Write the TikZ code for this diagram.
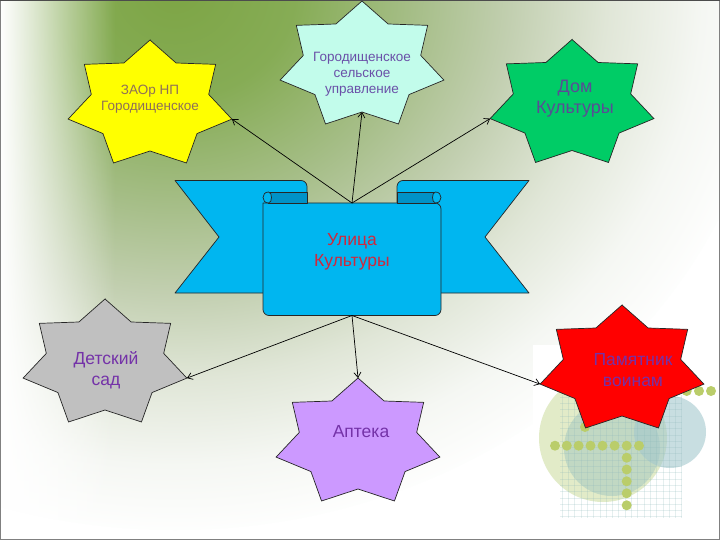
\documentclass[tikz,border=0pt]{standalone}
\usepackage{fontspec}
\setmainfont{Liberation Sans}
\usetikzlibrary{arrows.meta,fadings}

\definecolor{bg0}{HTML}{7DA545}
\definecolor{bg1}{HTML}{86AC55}
\definecolor{bg2}{HTML}{A6BE88}
\definecolor{bg3}{HTML}{C2CFB0}
\definecolor{bg4}{HTML}{E0E6D7}
\definecolor{bg5}{HTML}{F5F7F3}
\definecolor{ribL}{HTML}{00B6F0}
\definecolor{ribD}{HTML}{0092C8}
\definecolor{stYel}{HTML}{FFFF00}
\definecolor{stCyan}{HTML}{C2FCEB}
\definecolor{stGreen}{HTML}{00CC66}
\definecolor{stGrey}{HTML}{C0C0C0}
\definecolor{stViolet}{HTML}{CC99FF}
\definecolor{stRed}{HTML}{FF0000}
\definecolor{txBrown}{HTML}{8F7058}
\definecolor{txBlue}{HTML}{6A50A8}
\definecolor{txSlate}{HTML}{5A4C96}
\definecolor{txPurple}{HTML}{7432A8}
\definecolor{txRed}{HTML}{D0283C}
\definecolor{dc1}{HTML}{D6E3B2}
\definecolor{dc2}{HTML}{A6CABF}
\definecolor{dc3}{HTML}{A4C8CE}
\definecolor{dcgrid}{HTML}{8DB8BA}
\definecolor{dcdot}{HTML}{BACD6A}

\pgfdeclareradialshading{bgshade}{\pgfpoint{0bp}{0bp}}{color(0bp)=(bg0); color(5bp)=(bg1); color(10bp)=(bg2); color(14bp)=(bg3); color(18bp)=(bg4); color(22bp)=(bg5); color(25.5bp)=(white); color(50bp)=(white)}
\tikzfading[name=fadeleft, left color=transparent!0, middle color=transparent!35, right color=transparent!100]

\newcommand\sevenstar[4]{%
  \draw[starline, fill=#3] ({#1},{#2-64.7})
    \foreach \k in {0,...,6}{
      -- ({#1+60.2*cos(115.714+51.4286*\k)},{#2-46.3*sin(115.714+51.4286*\k)})
      -- ({#1+84*cos(141.4286+51.4286*\k)},{#2-64.7*sin(141.4286+51.4286*\k)}) } -- cycle;
  \coordinate (#4-n) at ({#1},{#2-64.7});
  \coordinate (#4-s) at ({#1},{#2+46.3});
  \coordinate (#4-e) at ({#1+81.9},{#2+14.4});
  \coordinate (#4-w) at ({#1-81.9},{#2+14.4});
}

\tikzset{
  starline/.style={draw=black!85, line width=0.7pt, line join=miter},
  ribline/.style={draw=black!85, line width=0.7pt, line join=round},
  conn/.style={draw=black, line width=0.7pt, -{Straight Barb[length=5pt,width=7pt]}},
  smalltxt/.style={align=center, font=\fontsize{13.5}{15.5}\selectfont, inner sep=0pt},
  bigtxt/.style={align=center, font=\fontsize{17.5}{20.5}\selectfont, inner sep=0pt},
}

\begin{document}
\begin{tikzpicture}[x=1pt,y=-1pt]
\useasboundingbox (0,0) rectangle (720,540);

% background
\begin{scope}
  \clip (0,0) rectangle (720,540);
  \fill[white] (0,0) rectangle (720,540);
  \shade[shading=bgshade] (175,-10) ellipse [x radius=600pt, y radius=540pt];
  \fill[white, path fading=fadeleft] (0,0) rectangle (115,540);
\end{scope}

% decorative picture bottom right
\begin{scope}
  \fill[white] (533,345) rectangle (719,523);
  \fill[dc1, opacity=0.7] (603,438) circle (64pt);
  \fill[dc2, opacity=0.55] (612,448) circle (48pt);
  \fill[dc3, opacity=0.6] (670,432) circle (36pt);
  \begin{scope}
    \clip (560,395) rectangle (682,518);
    \foreach \gx in {0,...,19} {
      \draw[dcgrid, opacity=0.22, line width=0.5pt] ({562+6.3*\gx},395) -- ({562+6.3*\gx},518);
    }
    \foreach \gy in {0,...,19} {
      \draw[dcgrid, opacity=0.22, line width=0.5pt] (560,{397+6.3*\gy}) -- (682,{397+6.3*\gy});
    }
  \end{scope}
  \foreach \dx in {555,566.8,578.6,590.5,602.5,614.6,626.7,639} {
    \fill[dcdot] (\dx,445.7) circle (5pt);
  }
  \foreach \dy in {457.7,469.5,481.3,493.3,505.3} {
    \fill[dcdot] (626.7,\dy) circle (5pt);
  }
  \foreach \dx in {686.7,699,711} {
    \fill[dcdot] (\dx,391) circle (5pt);
  }
  \fill[dcdot] (585,427) circle (5pt);
\end{scope}

% ribbon
\draw[ribline, fill=ribL] (175,180.5) [rounded corners=6pt] -- (307,180.5) -- (307,240) [sharp corners] -- (307,293) -- (175,293) -- (219,237) -- cycle;
\draw[ribline, fill=ribL] (529,180.5) [rounded corners=6pt] -- (397,180.5) -- (397,240) [sharp corners] -- (397,293) -- (529,293) -- (485,237) -- cycle;
\draw[ribline, fill=ribL, rounded corners=6pt] (263,203) -- (263,315.5) -- (441,315.5) -- (441,203) [sharp corners] -- cycle;
\draw[ribline, fill=ribD] (268.5,192) rectangle (307,203);
\draw[ribline, fill=ribD] (397,192) rectangle (435.5,203);
\draw[ribline, fill=ribL] (268.5,192) .. controls (261.2,192) and (261.2,203) .. (268.5,203) .. controls (272.5,203) and (272.5,192) .. (268.5,192) -- cycle;
\draw[ribline, fill=ribL] (435.5,192) .. controls (442.8,192) and (442.8,203) .. (435.5,203) .. controls (431.5,203) and (431.5,192) .. (435.5,192) -- cycle;
\coordinate (rtop) at (352,203);
\coordinate (rbot) at (352,315.5);
\node[bigtxt, text=txRed] (ribtext) at (352,252) {Улица\\Культуры};

% stars
\sevenstar{150}{104.7}{stYel}{zaor}
\sevenstar{362}{65.7}{stCyan}{gsu}
\sevenstar{572}{104.2}{stGreen}{dk}
\sevenstar{105}{363.7}{stGrey}{ds}
\sevenstar{358}{442.7}{stViolet}{apt}
\sevenstar{622}{369.7}{stRed}{pam}

\node[smalltxt, text=txBrown] (zaortext) at (150,99) {ЗАОр НП\\Городищенское};
\node[smalltxt, text=txBlue, font=\fontsize{13.5}{16}\selectfont] (gsutext) at (362,74) {Городищенское\\сельское\\управление};
\node[bigtxt, text=txSlate, font=\fontsize{18}{21}\selectfont] (dktext) at (575,99) {Дом\\Культуры};
\node[bigtxt, text=txPurple] (dstext) at (106,370) {Детский\\сад};
\node[bigtxt, text=txPurple] (apttext) at (361,432) {Аптека};
\node[bigtxt, text=txPurple] (pamtext) at (633,370) {Памятник\\воинам};

% connectors
\draw[conn] (rtop) -- (zaor-e);
\draw[conn] (rtop) -- (gsu-s);
\draw[conn] (rtop) -- (dk-w);
\draw[conn] (rbot) -- (ds-e);
\draw[conn] (rbot) -- (apt-n);
\draw[conn] (rbot) -- (pam-w);

% frame
\draw[black!50, line width=1pt] (0.5,0.5) rectangle (719.5,539.5);
\draw[black!70, line width=1.5pt] (0,0.75) -- (720,0.75);
\end{tikzpicture}
\end{document}
